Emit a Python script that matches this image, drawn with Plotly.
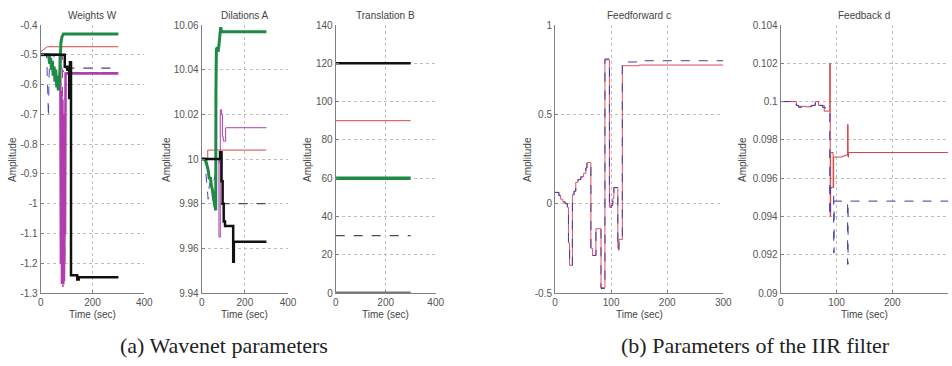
import plotly.graph_objects as go

# ---------------- data ----------------
# (a) Weights W
w_green_t = [0, 30, 35, 38, 42, 45, 48, 52, 55, 58, 62, 65, 68, 70, 72, 75, 78, 82, 88, 300]
w_green_v = [-0.5, -0.5, -0.53, -0.51, -0.55, -0.52, -0.57, -0.54, -0.59, -0.55, -0.61, -0.57, -0.62, -0.58, -0.6, -0.52, -0.46, -0.44, -0.43, -0.43]
w_red_t = [0, 25, 300]
w_red_v = [-0.49, -0.473, -0.473]
w_black_t = [0, 93, 103, 110, 113, 117, 141, 147, 300]
w_black_v = [-0.5, -0.54, -0.55, -0.645, -0.525, -1.24, -1.255, -1.247, -1.247]
w_dash_t = [95, 300]
w_dash_v = [-0.545, -0.545]
w_mag_t = [0, 74, 76, 78, 80, 82, 84, 86, 88, 90, 92, 94, 96, 300]
w_mag_v = [-0.5, -0.5, -0.6, -1.2, -0.62, -1.27, -0.65, -1.27, -0.7, -1.26, -0.8, -1.1, -0.563, -0.563]
w_magd_t = [0, 84, 86, 88, 90, 92, 94, 97, 300]
w_magd_v = [-0.5, -0.5, -1.28, -0.75, -1.28, -0.7, -1.2, -0.56, -0.56]
w_blue_t = [0, 22, 24, 25, 26, 27, 28, 29, 30, 32, 35, 40, 60, 90, 300]
w_blue_v = [-0.5, -0.5, -0.53, -0.57, -0.6, -0.63, -0.66, -0.69, -0.71, -0.58, -0.52, -0.5, -0.51, -0.56, -0.56]

# (a) Dilations A
a_green_t = [0, 15, 20, 25, 30, 35, 40, 45, 50, 55, 60, 63, 65, 66, 68, 72, 76, 80, 84, 88, 92, 300]
a_green_v = [10.0, 10.0, 9.999, 9.997, 9.995, 9.991, 9.992, 9.988, 9.986, 9.982, 9.98, 9.978, 9.977, 10.03, 10.049, 10.05, 10.048, 10.051, 10.055, 10.059, 10.057, 10.057]
a_black_t = [0, 85, 92, 97, 102, 108, 146, 149, 300]
a_black_v = [10.0, 10.003, 9.99, 9.98, 9.972, 9.970, 9.954, 9.963, 9.963]
a_red_t = [0, 28, 300]
a_red_v = [10.0, 10.004, 10.004]
a_mag_t = [0, 80, 86, 92, 96, 100, 111, 300]
a_mag_v = [10.0, 9.965, 10.022, 10.02, 10.01, 10.008, 10.014, 10.014]
a_dash_t = [88, 300]
a_dash_v = [9.98, 9.98]
a_blue_t = [0, 15, 18, 22, 26, 30, 35, 45, 55, 65, 75, 85]
a_blue_v = [10.0, 10.0, 9.995, 9.99, 9.985, 9.982, 9.988, 9.992, 9.99, 9.994, 9.997, 10.0]

# (a) Translation B
b_t = [0, 300]
b_black = [120, 120]
b_red = [90, 90]
b_green = [60, 60]
b_dash = [30, 30]
b_gray = [0, 0]

# (b) Feedforward c
c_red_t = [0, 7, 10, 14, 18, 22, 24, 26, 31, 34, 37, 41, 46, 51, 55, 57, 59, 64, 67, 73, 82, 89, 97, 100, 103, 105, 112, 114, 120, 150, 300]
c_red_v = [0.063, 0.045, 0.025, 0.01, 0.0, -0.02, -0.22, -0.345, 0.05, 0.07, 0.12, 0.135, 0.15, 0.17, 0.2, 0.23, 0.23, -0.25, -0.29, -0.14, -0.47, 0.805, -0.02, 0.0, 0.03, 0.09, -0.25, -0.2, 0.772, 0.776, 0.776]
c_blue_t = [0, 7, 10, 14, 18, 22, 24, 26, 31, 34, 37, 41, 46, 51, 55, 57, 59, 64, 67, 73, 82, 89, 97, 100, 103, 105, 112, 114, 120, 150, 300]
c_blue_v = [0.063, 0.045, 0.025, 0.01, 0.0, -0.02, -0.22, -0.345, 0.05, 0.07, 0.12, 0.135, 0.15, 0.17, 0.2, 0.23, 0.23, -0.25, -0.29, -0.14, -0.475, 0.81, -0.03, -0.01, 0.03, 0.09, -0.26, -0.21, 0.793, 0.8, 0.8]

# (b) Feedback d
d_red_t = [0, 28, 32, 45, 55, 62, 68, 78, 88, 88.8, 89.6, 94, 95, 110, 115, 120, 120.8, 121.6, 300]
d_red_v = [0.1, 0.0998, 0.09975, 0.09973, 0.0998, 0.1, 0.0998, 0.0995, 0.102, 0.094, 0.09734, 0.0955, 0.0971, 0.09715, 0.0972, 0.0988, 0.0971, 0.09734, 0.09734]
d_blue_t = [0, 28, 32, 45, 55, 62, 68, 75, 80, 88, 88.8, 95, 95.8, 120, 120.8, 300]
d_blue_v = [0.1, 0.0998, 0.0997, 0.09973, 0.0998, 0.1, 0.0998, 0.0997, 0.0994, 0.094, 0.0955, 0.0921, 0.0948, 0.0915, 0.0948, 0.0948]

# ticks
w_ticks = [-1.3, -1.2, -1.1, -1.0, -0.9, -0.8, -0.7, -0.6, -0.5, -0.4]
w_ticktext = ["-1.3", "-1.2", "-1.1", "-1", "-0.9", "-0.8", "-0.7", "-0.6", "-0.5", "-0.4"]
a_ticks = [9.94, 9.96, 9.98, 10.0, 10.02, 10.04, 10.06]
a_ticktext = ["9.94", "9.96", "9.98", "10", "10.02", "10.04", "10.06"]
b_ticks = [0, 20, 40, 60, 80, 100, 120, 140]
b_ticktext = ["0", "20", "40", "60", "80", "100", "120", "140"]
c_ticks = [-0.5, 0, 0.5, 1]
c_ticktext = ["-0.5", "0", "0.5", "1"]
d_ticks = [0.09, 0.092, 0.094, 0.096, 0.098, 0.1, 0.102, 0.104]
d_ticktext = ["0.09", "0.092", "0.094", "0.096", "0.098", "0.1", "0.102", "0.104"]
x4_ticks = [0, 200, 400]
x3_ticks = [0, 100, 200, 300]

titles = ["Weights W", "Dilations A", "Translation B", "Feedforward c", "Feedback d"]
captions = ["(a) Wavenet parameters", "(b) Parameters of the IIR filter"]

# ---------------- layout ----------------
W, H = 952, 366
top_px, bot_px = 25, 293
xpx = [(40.7, 144.3), (201.7, 288.0), (335.7, 435.7), (555.0, 723.3), (780.7, 948.0)]
ylab_px = [12, 166, 307, 527, 742]

GREEN = "#1f8a45"
BLACK = "#111111"
RED = "#cc4a4a"
MAG = "#b03cb0"
DASH = "#4a4a5a"
BLUE = "#4848b0"
GRAY = "#777777"

fig = go.Figure()

def add(i, t, v, color, width, dash="solid", shape="linear"):
    ax = "" if i == 1 else str(i)
    fig.add_trace(go.Scatter(x=t, y=v, mode="lines", xaxis="x" + ax, yaxis="y" + ax,
                             line=dict(color=color, width=width, dash=dash, shape=shape),
                             hoverinfo="skip"))

# Weights W
add(1, w_blue_t, w_blue_v, BLUE, 1, "dash")
add(1, w_red_t, w_red_v, RED, 1)
add(1, w_dash_t, w_dash_v, DASH, 1.2, "dash")
add(1, w_magd_t, w_magd_v, MAG, 1, "dash")
add(1, w_mag_t, w_mag_v, MAG, 2.5)
add(1, w_green_t, w_green_v, GREEN, 3)
add(1, w_black_t, w_black_v, BLACK, 2.5, shape="hv")

# Dilations A
add(2, a_blue_t, a_blue_v, BLUE, 1, "dash")
add(2, a_red_t, a_red_v, RED, 1, shape="hv")
add(2, a_dash_t, a_dash_v, DASH, 1.2, "dash")
add(2, a_mag_t, a_mag_v, MAG, 1, shape="hv")
add(2, a_green_t, a_green_v, GREEN, 3)
add(2, a_black_t, a_black_v, BLACK, 2.5, shape="hv")

# Translation B
add(3, b_t, b_gray, GRAY, 3)
add(3, b_t, b_dash, DASH, 1.2, "dash")
add(3, b_t, b_green, GREEN, 3.5)
add(3, b_t, b_red, RED, 1)
add(3, b_t, b_black, BLACK, 2.5)

# Feedforward c
add(4, c_red_t, c_red_v, "#e0506a", 1, shape="hv")
add(4, c_blue_t, c_blue_v, "#40409a", 1, "dash", shape="hv")

# Feedback d
add(5, d_red_t, d_red_v, "#d04545", 1, shape="hv")
add(5, d_blue_t, d_blue_v, "#3a3aa8", 1, "dash", shape="hv")

tickfont = dict(family="Liberation Sans, Arial, sans-serif", size=10, color="#555555")
common = dict(showgrid=True, gridcolor="#bdbdbd", griddash="dot", gridwidth=1,
              zeroline=False, showline=True, linecolor="#808080", linewidth=1,
              ticks="inside", ticklen=3, tickcolor="#808080", tickfont=tickfont,
              mirror=False, fixedrange=True, automargin=False)

yranges = [(-1.3, -0.4), (9.94, 10.06), (0, 140), (-0.5, 1), (0.09, 0.104)]
ytv = [(w_ticks, w_ticktext), (a_ticks, a_ticktext), (b_ticks, b_ticktext),
       (c_ticks, c_ticktext), (d_ticks, d_ticktext)]
xranges = [(0, 400), (0, 400), (0, 400), (0, 300), (0, 300)]
xtv = [x4_ticks, x4_ticks, x4_ticks, x3_ticks, x3_ticks]

layout = dict(width=W, height=H, margin=dict(l=0, r=0, t=0, b=0, autoexpand=False),
              paper_bgcolor="white", plot_bgcolor="white", showlegend=False)
ydom = [1 - bot_px / H, 1 - top_px / H]
annotations = []
lab_font = dict(family="Liberation Sans, Arial", size=10, color="#444444")
for i in range(5):
    k = "" if i == 0 else str(i + 1)
    x0, x1 = xpx[i]
    layout["xaxis" + k] = dict(domain=[x0 / W, x1 / W], range=list(xranges[i]),
                               tickvals=xtv[i], ticktext=[str(v) for v in xtv[i]],
                               anchor="y" + k, **common)
    layout["yaxis" + k] = dict(domain=ydom, range=list(yranges[i]),
                               tickvals=ytv[i][0], ticktext=ytv[i][1],
                               anchor="x" + k, **common)
    cx = (x0 + x1) / 2 / W
    annotations.append(dict(text=titles[i], x=cx, y=1 - 15 / H, xref="paper", yref="paper",
                            xanchor="center", yanchor="middle", showarrow=False, font=lab_font))
    annotations.append(dict(text="Time (sec)", x=cx, y=1 - 314 / H, xref="paper", yref="paper",
                            xanchor="center", yanchor="middle", showarrow=False, font=lab_font))
    annotations.append(dict(text="Amplitude", x=ylab_px[i] / W, y=1 - 160 / H, xref="paper", yref="paper",
                            xanchor="center", yanchor="middle", textangle=-90, showarrow=False,
                            font=lab_font))

cap_font = dict(family="Liberation Serif, serif", size=22, color="#222222")
annotations.append(dict(text=captions[0], x=224 / W, y=1 - 345 / H, xref="paper", yref="paper",
                        xanchor="center", yanchor="middle", showarrow=False, font=cap_font))
annotations.append(dict(text=captions[1], x=755 / W, y=1 - 345 / H, xref="paper", yref="paper",
                        xanchor="center", yanchor="middle", showarrow=False, font=cap_font))
layout["annotations"] = annotations
fig.update_layout(**layout)

fig.write_html("out.html", config={"displayModeBar": False},
               post_script="document.body.style.margin='0';document.body.style.overflow='hidden';")
